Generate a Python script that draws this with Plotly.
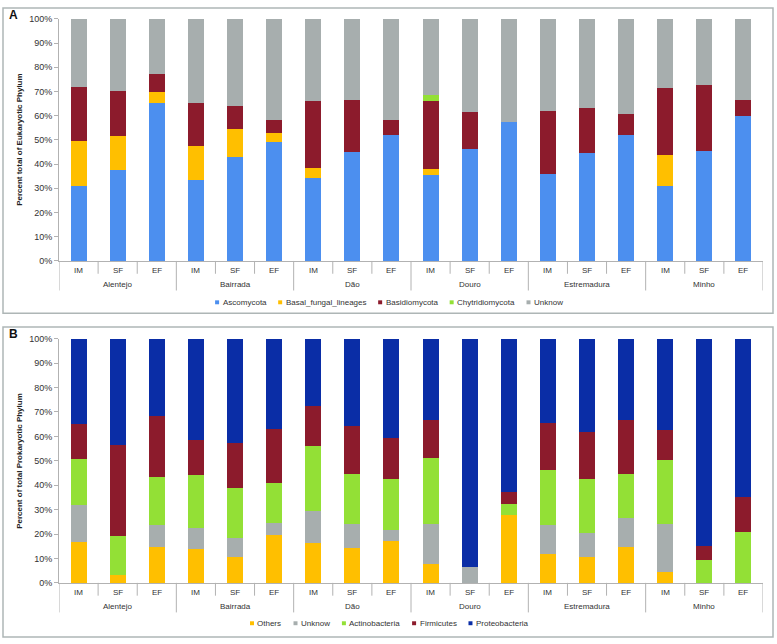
import plotly.graph_objects as go

W, H = 777, 644

# ---------------- data ----------------
regions = ["Alentejo", "Bairrada", "Dão", "Douro", "Estremadura", "Minho"]
stages = ["IM", "SF", "EF"]

euk_names = ["Ascomycota", "Basal_fungal_lineages", "Basidiomycota", "Chytridiomycota", "Unknow"]
ascomycota = [30.9, 37.5, 65.4, 33.5, 43.2, 49.2, 34.4, 44.9, 52.3, 35.5, 46.5, 57.5, 36.2, 44.6, 52.3, 31.2, 45.3, 59.9]
basal_fungal = [18.8, 14.0, 4.5, 14.2, 11.4, 3.6, 4.1, 0, 0, 2.6, 0, 0, 0, 0, 0, 12.6, 0, 0]
basidiomycota = [22.3, 18.8, 7.2, 17.7, 9.6, 5.3, 27.6, 21.5, 5.8, 28.0, 15.0, 0, 26.0, 18.8, 8.3, 27.7, 27.5, 6.8]
chytridiomycota = [0, 0, 0, 0, 0, 0, 0, 0, 0, 2.7, 0, 0, 0, 0, 0, 0, 0, 0]
euk_unknow = [28.0, 29.7, 22.9, 34.6, 35.8, 41.9, 33.9, 33.6, 41.9, 31.2, 38.5, 42.5, 37.8, 36.6, 39.4, 28.5, 27.2, 33.3]

pro_names = ["Others", "Unknow", "Actinobacteria", "Firmicutes", "Proteobacteria"]
others = [16.7, 3.2, 14.8, 13.9, 10.6, 19.8, 16.6, 14.6, 17.4, 8.0, 0, 27.9, 11.9, 10.8, 14.8, 4.4, 0, 0]
pro_unknow = [15.2, 0, 8.9, 8.5, 7.7, 4.9, 12.9, 9.8, 4.4, 16.4, 6.6, 0, 12.0, 9.7, 11.9, 20.0, 0, 0]
actinobacteria = [18.9, 16.3, 19.8, 21.8, 20.8, 16.4, 26.8, 20.5, 20.7, 26.8, 0, 4.7, 22.6, 22.0, 18.2, 25.9, 9.3, 20.8]
firmicutes = [14.3, 37.2, 25.0, 14.3, 18.4, 22.2, 16.1, 19.3, 17.1, 15.8, 0, 4.7, 19.1, 19.5, 21.8, 12.6, 6.1, 14.4]
proteobacteria = [34.9, 43.3, 31.5, 41.5, 42.5, 36.7, 27.6, 35.8, 40.4, 33.0, 93.4, 62.7, 34.4, 38.0, 33.3, 37.1, 84.6, 64.8]

euk_series = [ascomycota, basal_fungal, basidiomycota, chytridiomycota, euk_unknow]
pro_series = [others, pro_unknow, actinobacteria, firmicutes, proteobacteria]

euk_colors = ["#4C8FEF", "#FFBF00", "#8C1B2C", "#93E036", "#A7AEAE"]
pro_colors = ["#FFBF00", "#A7AEAE", "#93E036", "#8C1B2C", "#0A2DA6"]

# ---------------- layout helpers ----------------
FONT = "Liberation Sans, Arial, sans-serif"
AX = "#B2B2B2"
TXT = "#333333"

def px_x(p):
    return p / W

def px_y(p):
    return 1 - p / H

cats_inner = [s for r in regions for s in stages]
xs = list(range(len(cats_inner)))

panels = [
    dict(top=14, bot=260, names=euk_names, series=euk_series, colors=euk_colors,
         title="Percent total of Eukaryotic Phylum", letter="A", box=(3, 3, 773, 313),
         leg_y=302, xa="x", ya="y"),
    dict(top=339, bot=587, names=pro_names, series=pro_series, colors=pro_colors,
         title="Percent of total Prokaryotic Phylum", letter="B", box=(3, 327, 773, 642),
         leg_y=628, xa="x2", ya="y2"),
]

PL, PR = 59, 763

fig = go.Figure()
shapes = []
annotations = []

# Arial-like widths (per 1000 em) for legend layout
CW = {c: 556 for c in "abdeghnopqu0123456789"}
CW.update({"c": 500, "f": 278, "i": 222, "j": 222, "k": 500, "l": 222, "m": 833, "r": 333,
           "s": 500, "t": 278, "v": 500, "w": 722, "x": 500, "y": 500, "z": 500, "_": 556,
           "A": 667, "B": 667, "C": 722, "F": 611, "O": 778, "P": 667, "U": 722, " ": 278})

def text_w(s, size):
    return sum(CW.get(ch, 556) for ch in s) * size / 1000.0

for pi, p in enumerate(panels):
    sfx = "" if pi == 0 else "2"
    for name, vals, col in zip(p["names"], p["series"], p["colors"]):
        fig.add_trace(go.Bar(x=xs, y=vals, name=name, marker=dict(color=col, line=dict(width=0)),
                             width=0.41, showlegend=False, xaxis=p["xa"], yaxis=p["ya"]))
    dom_y = [px_y(p["bot"]), px_y(p["top"])]
    fig.layout["xaxis" + sfx] = dict(domain=[px_x(PL), px_x(PR)], range=[-0.5, len(xs) - 0.5],
                                    showticklabels=False, ticks="", showline=True, linecolor=AX,
                                    linewidth=1, showgrid=False, zeroline=False, fixedrange=True,
                                    anchor="y" + sfx)
    fig.layout["yaxis" + sfx] = dict(domain=dom_y, range=[0, 100], dtick=10, ticksuffix="%",
                                    ticks="outside", ticklen=4, tickcolor=AX, showline=True,
                                    linecolor=AX, linewidth=1, showgrid=False, zeroline=False,
                                    tickfont=dict(family=FONT, size=9, color=TXT),
                                    anchor="x" + sfx, fixedrange=True)
    yb = px_y(p["bot"])
    # tick marks between categories and group dividers
    n = len(stages)
    for b in range(len(xs) + 1):
        xb = b - 0.5
        long = (b % n == 0)
        ybot = p["bot"] + (30 if long else 13)
        shapes.append(dict(type="line", xref=p["xa"], yref="paper", x0=xb, x1=xb,
                           y0=yb, y1=px_y(ybot), line=dict(color=AX, width=1)))
    # inner labels
    for i, lab in enumerate(cats_inner):
        annotations.append(dict(x=i, y=px_y(p["bot"] + 9.5), xref=p["xa"], yref="paper", text=lab,
                                showarrow=False, font=dict(family=FONT, size=8, color=TXT),
                                xanchor="center", yanchor="middle"))
    # group labels
    for g, reg in enumerate(regions):
        cx = g * n + (n - 1) / 2
        annotations.append(dict(x=cx, y=px_y(p["bot"] + 24), xref=p["xa"], yref="paper", text=reg,
                                showarrow=False, font=dict(family=FONT, size=8, color=TXT),
                                xanchor="center", yanchor="middle"))
    # y title
    annotations.append(dict(x=px_x(20), y=px_y((p["top"] + p["bot"]) / 2), xref="paper", yref="paper",
                            text="<b>" + p["title"] + "</b>", textangle=-90, showarrow=False,
                            font=dict(family=FONT, size=8, color="#222222"),
                            xanchor="center", yanchor="middle"))
    # panel letter
    annotations.append(dict(x=px_x(13), y=px_y(p["box"][1] + 7), xref="paper", yref="paper",
                            text="<b>" + p["letter"] + "</b>", showarrow=False,
                            font=dict(family=FONT, size=12, color="#111111"),
                            xanchor="center", yanchor="middle"))
    # panel border
    x0, y0, x1, y1 = p["box"]
    shapes.append(dict(type="rect", xref="paper", yref="paper", x0=px_x(x0), x1=px_x(x1),
                       y0=px_y(y0), y1=px_y(y1), line=dict(color="#AEB6B6", width=1.5),
                       fillcolor="rgba(0,0,0,0)", layer="below"))
    # custom legend
    lf = 8
    msz, mgap, igap = 4, 2.5, 13
    widths = [msz + mgap + text_w(nm, lf) for nm in p["names"]]
    total = sum(widths) + igap * (len(widths) - 1)
    cx0 = W / 2 - total / 2
    ly = p["leg_y"]
    for nm, col, wd in zip(p["names"], p["colors"], widths):
        shapes.append(dict(type="rect", xref="paper", yref="paper", x0=px_x(cx0), x1=px_x(cx0 + msz),
                           y0=px_y(ly + msz / 2), y1=px_y(ly - msz / 2), line=dict(width=0),
                           fillcolor=col))
        annotations.append(dict(x=px_x(cx0 + msz + mgap), y=px_y(ly), xref="paper", yref="paper",
                                text=nm, showarrow=False, font=dict(family=FONT, size=lf, color=TXT),
                                xanchor="left", yanchor="middle", xshift=-1))
        cx0 += wd + igap

fig.update_layout(width=W, height=H, margin=dict(l=0, r=0, t=0, b=0), barmode="stack",
                  bargap=0, plot_bgcolor="white", paper_bgcolor="white", showlegend=False,
                  shapes=shapes, annotations=annotations)

fig.write_html("out.html", config={"displayModeBar": False},
               post_script="document.body.style.margin='0';document.body.style.padding='0';"
                           "document.documentElement.style.overflow='hidden';")
